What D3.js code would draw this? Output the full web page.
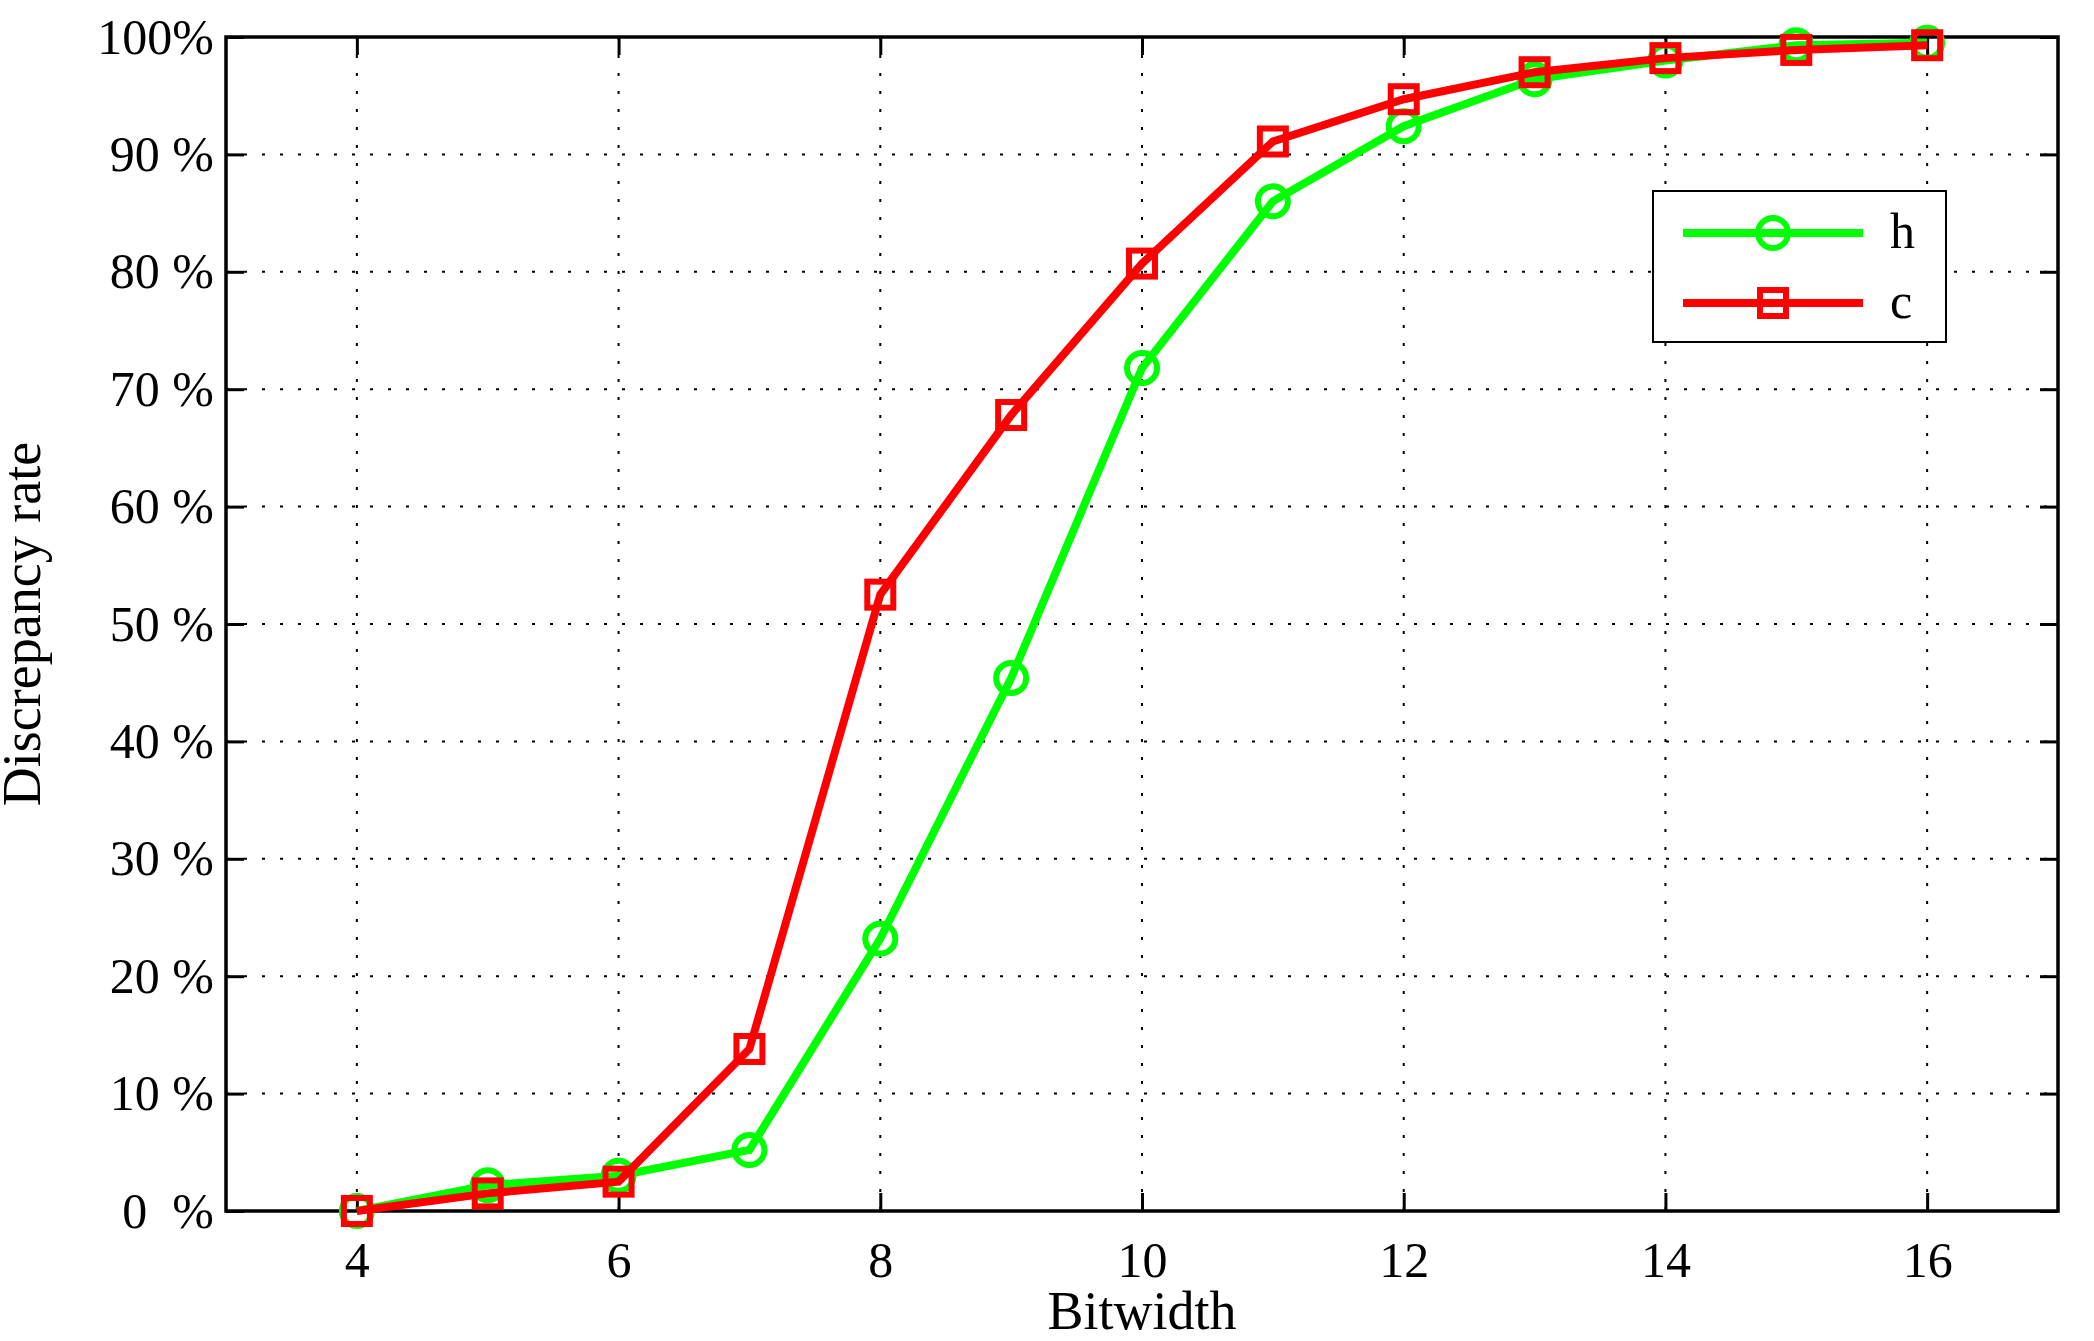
<!DOCTYPE html>
<html><head><meta charset="utf-8">
<script src="https://cdn.jsdelivr.net/npm/d3@7"></script>
<style>body{margin:0;background:#fff}text{font-family:"Liberation Serif","Times New Roman",serif}</style>
</head><body><div id="chart"></div>
<script>
const bitwidths = [4,5,6,7,8,9,10,11,12,13,14,15,16];
const hValues = [0,2.2,3,5.2,23.2,45.4,71.8,86,92.4,96.4,98,99.3,99.5];
const cValues = [0,1.5,2.5,13.8,52.5,67.8,80.7,91.1,94.7,97,98.2,98.9,99.3];
const xTicks = [4,6,8,10,12,14,16];
const yTicks = [0,10,20,30,40,50,60,70,80,90,100];
const yTickLabels = ["0  %","10 %","20 %","30 %","40 %","50 %","60 %","70 %","80 %","90 %","100%"];

const W = 2094, H = 1341;
const margin = {top: 37, right: 36, bottom: 130, left: 226};
const width = W - margin.left - margin.right, height = H - margin.top - margin.bottom;

const svg = d3.select("#chart").append("svg").attr("width", W).attr("height", H)
  .append("g").attr("transform", "translate(" + margin.left + "," + margin.top + ")");

const x = d3.scaleLinear().domain([3,17]).range([0,width]);
const y = d3.scaleLinear().domain([0,100]).range([height,0]);

// grid
svg.append("g").selectAll("line").data(xTicks).enter().append("line")
  .attr("x1", d => x(d)).attr("x2", d => x(d)).attr("y1", 0).attr("y2", height)
  .attr("stroke", "#000").attr("stroke-width", 2).attr("stroke-dasharray", "3,15");
svg.append("g").selectAll("line").data(yTicks.slice(1,-1)).enter().append("line")
  .attr("y1", d => y(d)).attr("y2", d => y(d)).attr("x1", 0).attr("x2", width)
  .attr("stroke", "#000").attr("stroke-width", 2).attr("stroke-dasharray", "3,15");

const xAxis = svg.append("g").attr("transform", "translate(0," + height + ")")
  .call(d3.axisBottom(x).tickValues(xTicks).tickSize(-18).tickPadding(30).tickFormat(d3.format("d")));
const xTop = svg.append("g").call(d3.axisTop(x).tickValues(xTicks).tickSize(-18).tickFormat(""));
const yAxis = svg.append("g")
  .call(d3.axisLeft(y).tickValues(yTicks).tickSize(-18).tickPadding(12).tickFormat((d,i) => yTickLabels[i]));
const yRight = svg.append("g").attr("transform", "translate(" + width + ",0)")
  .call(d3.axisRight(y).tickValues(yTicks).tickSize(-18).tickFormat(""));
[xAxis, xTop, yAxis, yRight].forEach(a => {
  a.select(".domain").remove();
  a.attr("font-size", 50).attr("font-family", "Liberation Serif");
  a.selectAll("line").attr("stroke-width", 3);
  a.selectAll("text").attr("fill", "#000").style("white-space", "pre");
});
svg.append("rect").attr("width", width).attr("height", height).attr("fill", "none").attr("stroke", "#000").attr("stroke-width", 3.5);

const line = d3.line().x((d,i) => x(bitwidths[i])).y(d => y(d));
svg.append("path").datum(hValues).attr("d", line).attr("fill", "none").attr("stroke", "#00ff00").attr("stroke-width", 8);
svg.selectAll(".hm").data(hValues).enter().append("circle").attr("class", "hm")
  .attr("cx", (d,i) => x(bitwidths[i])).attr("cy", d => y(d)).attr("r", 15)
  .attr("fill", "none").attr("stroke", "#00ff00").attr("stroke-width", 6);
svg.append("path").datum(cValues).attr("d", line).attr("fill", "none").attr("stroke", "#ff0000").attr("stroke-width", 8);
svg.selectAll(".cm").data(cValues).enter().append("rect").attr("class", "cm")
  .attr("x", (d,i) => x(bitwidths[i]) - 13).attr("y", d => y(d) - 13).attr("width", 26).attr("height", 26)
  .attr("fill", "none").attr("stroke", "#ff0000").attr("stroke-width", 6);

// legend
const lg = svg.append("g").attr("transform", "translate(" + (1653 - margin.left) + "," + (191 - margin.top) + ")");
lg.append("rect").attr("width", 293).attr("height", 151).attr("fill", "#fff").attr("stroke", "#000").attr("stroke-width", 2);
const items = [{name: "h", color: "#00ff00", type: "circle"}, {name: "c", color: "#ff0000", type: "square"}];
items.forEach((it, i) => {
  const cy = 42 + i * 70;
  lg.append("line").attr("x1", 30).attr("x2", 210).attr("y1", cy).attr("y2", cy).attr("stroke", it.color).attr("stroke-width", 8);
  if (it.type === "circle") lg.append("circle").attr("cx", 120).attr("cy", cy).attr("r", 15).attr("fill", "none").attr("stroke", it.color).attr("stroke-width", 6);
  else lg.append("rect").attr("x", 107).attr("y", cy - 13).attr("width", 26).attr("height", 26).attr("fill", "none").attr("stroke", it.color).attr("stroke-width", 6);
  lg.append("text").attr("x", 237).attr("y", cy + 15).attr("font-size", 50).text(it.name);
});

svg.append("text").attr("x", width / 2).attr("y", height + 118).attr("text-anchor", "middle").attr("font-size", 54).text("Bitwidth");
svg.append("text").attr("transform", "translate(" + (-186) + "," + (height / 2) + ") rotate(-90)")
  .attr("text-anchor", "middle").attr("font-size", 54).text("Discrepancy rate");
</script></body></html>
